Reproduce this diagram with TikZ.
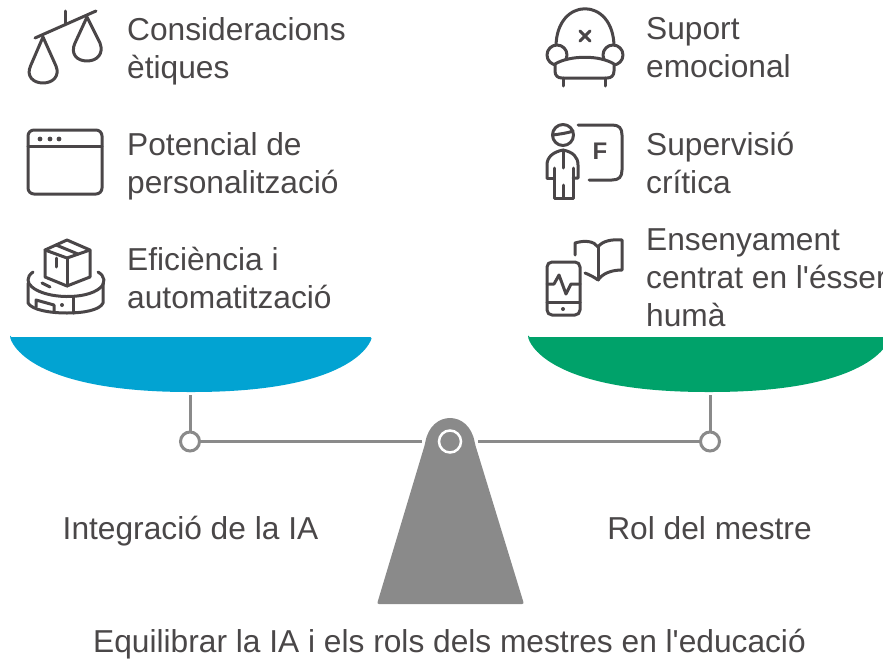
\documentclass[tikz,border=0pt]{standalone}
\usepackage{fontspec}
\setmainfont{Liberation Sans}
\definecolor{inkgray}{HTML}{4A4648}
\definecolor{textgray}{HTML}{4A4748}
\definecolor{beamgray}{HTML}{8A8A8A}
\definecolor{panblue}{HTML}{02A3D2}
\definecolor{pangreen}{HTML}{00A26A}
\tikzset{
  itemtext/.style={anchor=west, align=left, text=textgray, font=\fontsize{31.7}{38}\selectfont, inner sep=0pt},
  headtext/.style={text=textgray, font=\fontsize{31.7}{38}\selectfont, inner sep=0pt},
  icon/.style={draw=inkgray, line width=3pt, line cap=round, line join=round},
  beam/.style={draw=beamgray, line width=3pt},
  pivot/.style={circle, draw=beamgray, fill=white, line width=3pt, minimum size=19pt, inner sep=0pt}
}
\begin{document}
\begin{tikzpicture}[x=1pt, y=-1pt]
\useasboundingbox (0,0) rectangle (883,664);
\clip (0,0) rectangle (883,664);
% pans
\fill[panblue, rounded corners=1.5pt] (10,337) -- (372,337) .. controls (368,350) and (340,392) .. (191,392) .. controls (42,392) and (14,350) .. (10,337) -- cycle;
\fill[pangreen, rounded corners=1.5pt] (528,337) -- (890,337) .. controls (886,350) and (858,392) .. (709,392) .. controls (560,392) and (532,350) .. (528,337) -- cycle;
\coordinate (panL) at (190,395);
\coordinate (panR) at (710,395);
\coordinate (beamL) at (422,441.5);
\coordinate (beamR) at (478,441.5);
\node[pivot] (pivotL) at (190,441.5) {};
\node[pivot] (pivotR) at (710,441.5) {};
\draw[beam] (panL) -- (pivotL);
\draw[beam] (panR) -- (pivotR);
\draw[beam] (pivotL) -- (beamL);
\draw[beam] (pivotR) -- (beamR);
% stand
\fill[beamgray, rounded corners=2pt] (377,604) -- (425,444) .. controls (431,410) and (469,410) .. (475,444) -- (524,604) -- cycle;
\node[circle, draw=white, line width=2.5pt, minimum size=22pt, inner sep=0pt] (hub) at (450,441.5) {};
% scales icon
\draw[icon] (35,38) -- (96,11);
\draw[icon] (65,11) -- (65,24);
\draw[icon] (43,37) -- (30.5,66) .. controls (26,76) and (33,83) .. (43,83) .. controls (53,83) and (60,76) .. (56,66) -- cycle;
\draw[icon] (87,17) -- (75,43) .. controls (70,54) and (77,61) .. (87,61) .. controls (97,61) and (104,54) .. (100,43) -- cycle;
% window icon
\draw[icon, rounded corners=6pt] (28,130) rectangle (102,194);
\draw[icon] (28,146) -- (102,146);
\foreach \dotx in {40,50,59} \fill[inkgray] (\dotx,139) circle (2.4);
% box on disc icon
\draw[icon] (67,240) -- (90,250) -- (90,277) -- (67,286) -- (45,277) -- (45,250) -- cycle;
\draw[icon] (45,250) -- (67,258) -- (90,250);
\draw[icon] (67,258) -- (67,286);
\draw[icon] (56,245) -- (78,254);
\draw[icon] (56,258) -- (56,267);
\draw[icon] (33,272) .. controls (26,277) and (27,283) .. (32,287) .. controls (46,299) and (86,300) .. (100,288) .. controls (106,283) and (105,276) .. (98,272);
\draw[icon] (28,283) -- (28,303) .. controls (32,310) and (50,313) .. (67,313) .. controls (84,313) and (100,310) .. (103,303) -- (103,283);
\draw[icon] (42,283) -- (50,287);
\draw[icon] (73,297) -- (73,313);
\draw[icon] (36,307) -- (36,300) -- (54,305) -- (54,312);
\fill[inkgray] (62,305) circle (2);
% armchair icon
\draw[icon] (556,47) .. controls (556,-4) and (614,-4) .. (614,47);
\draw[icon, fill=white] (557,55) circle (10);
\draw[icon, fill=white] (613,55) circle (10);
\draw[icon, fill=white] (555,64) .. controls (570,55) and (600,55) .. (614,64) -- (614,71) .. controls (614,76) and (611,78) .. (607,78) -- (562,78) .. controls (558,78) and (555,76) .. (555,71) -- cycle;
\draw[icon] (563,78) -- (563,86);
\draw[icon] (605,78) -- (605,86);
\draw[icon] (580,31) -- (590,41);
\draw[icon] (590,31) -- (580,41);
% teacher icon
\draw[icon] (578,125) -- (612,125) .. controls (619,125) and (622,128) .. (622,135) -- (622,170) .. controls (622,177) and (619,180) .. (612,180) -- (589,180);
\node[font=\fontsize{24}{24}\selectfont\bfseries, text=inkgray, inner sep=0pt] (letterF) at (600,151) {F};
\draw[icon] (563,135) circle (10.5);
\draw[icon] (553,135) .. controls (560,134) and (568,133) .. (573,131);
\draw[icon] (547,178) -- (547,165) .. controls (547,157) and (553,152) .. (563,150) .. controls (573,152) and (578,157) .. (578,165) -- (578,178) -- (573,178);
\draw[icon] (547,178) -- (554,178);
\draw[icon] (563,150) -- (563,168);
\draw[icon] (554,168) -- (554,198) -- (573,198) -- (573,168);
\draw[icon] (563,185) -- (563,198);
% phone and book icon
\draw[icon, rounded corners=5pt] (547,262) rectangle (580,315);
\draw[icon] (547,302) -- (580,302);
\draw[icon] (547,284) -- (554,284) -- (559,275) -- (566,294) -- (571,284) -- (580,284);
\fill[inkgray] (563,309) circle (2);
\draw[icon] (575,255) -- (575,243) .. controls (585,240) and (594,241) .. (598,247) .. controls (602,241) and (612,239) .. (622,240) -- (622,270) .. controls (612,270) and (603,273) .. (598,280) .. controls (594,277) and (590,275) .. (585,273);
\draw[icon] (598,247) -- (598,280);
% texts
\node[itemtext] (ethics) at (127,51) {Consideracions\\ètiques};
\node[itemtext] (custom) at (127,166) {Potencial de\\personalització};
\node[itemtext] (auto) at (127,278) {Eficiència i\\automatització};
\node[itemtext] (support) at (646,48) {Suport\\emocional};
\node[itemtext] (review) at (646,163) {Supervisió\\crítica};
\node[itemtext] (human) at (646,278) {Ensenyament\\centrat en l\textquotesingle ésser\\humà};
\node[headtext] (leftTitle) at (190.5,531) {Integració de la IA};
\node[headtext] (rightTitle) at (709.5,528) {Rol del mestre};
\node[headtext] (caption) at (449.5,644) {Equilibrar la IA i els rols dels mestres en l\textquotesingle educació};
\end{tikzpicture}
\end{document}
